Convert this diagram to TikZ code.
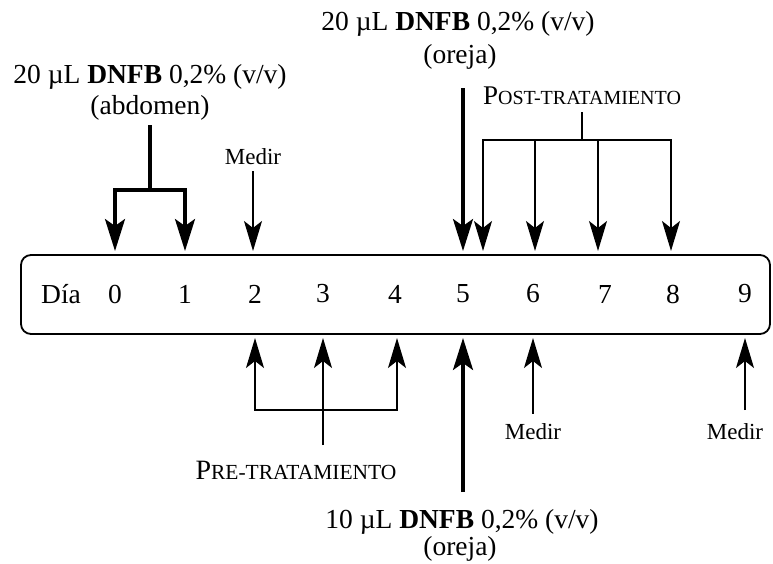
\documentclass[tikz,border=0pt]{standalone}
\usepackage{fontspec}
\setmainfont{Liberation Serif}
\usetikzlibrary{arrows.meta}
\begin{document}
\begin{tikzpicture}[x=1pt,y=-1pt,
  big/.style={font=\fontsize{27.5}{31}\selectfont, inner sep=0pt},
  med/.style={font=\fontsize{23}{26}\selectfont, inner sep=0pt},
  thinln/.style={line width=1.4pt},
  thickln/.style={line width=3.2pt},
  tipthin/.style={-{Stealth[length=30pt,width=18pt,inset=7pt]}},
  tipthick/.style={-{Stealth[length=32pt,width=20pt,inset=7pt]}},
  boxst/.style={draw, line width=1.8pt, rounded corners=10pt}
]
\useasboundingbox (0,0) rectangle (773,563);

% timeline box
\draw[boxst] (21,255) rectangle (770,334);
\node[big] (dia) at (61,294) {Día};
\foreach \d/\x in {0/115,1/185,2/255,3/323,4/395,5/463,6/533,7/605,8/673,9/745}
  \node[big] (d\d) at (\x,294) {\d};

% top texts
\node[big] (t1a) at (458,24) {20 µL \textbf{DNFB} 0,2\% (v/v)};
\node[big] (t1b) at (460,57) {(oreja)};
\node[big] (t2a) at (150,77) {20 µL \textbf{DNFB} 0,2\% (v/v)};
\node[big] (t2b) at (150,108) {(abdomen)};
\node[med] (m2) at (253,157) {Medir};
\node[inner sep=0pt] (post) at (582,96)
  {\fontsize{27}{30}\selectfont P\fontsize{20}{24}\selectfont OST-TRATAMIENTO};

% bottom texts
\node[inner sep=0pt] (pre) at (296,470)
  {\fontsize{28}{30}\selectfont P\fontsize{21.5}{24}\selectfont RE-TRATAMIENTO};
\node[med] (m6) at (533,432) {Medir};
\node[med] (m9) at (735,432) {Medir};
\node[big] (t3a) at (462,522) {10 µL \textbf{DNFB} 0,2\% (v/v)};
\node[big] (t3b) at (460,549) {(oreja)};

% top arrow coordinates
\coordinate (a0) at (115,251);
\coordinate (a1) at (185,251);
\coordinate (a2) at (253,251);
\coordinate (a5) at (463,251);
\coordinate (p5) at (483,251);
\coordinate (p6) at (535,251);
\coordinate (p7) at (598,251);
\coordinate (p8) at (671,251);
\coordinate (abS) at (150,125);
\coordinate (abJ) at (150,190);
\coordinate (s5) at (463,88);
\coordinate (pJ) at (582,140);

% abdomen bracket
\draw[thickln] (abS) -- (abJ);
\draw[thickln,tipthick] (abJ) -| (a0);
\draw[thickln,tipthick] (abJ) -| (a1);
% medir day 2
\draw[thinln,tipthin] ([yshift=-6pt]m2.south) -- (a2);
% thick arrow day 5 top
\draw[thickln,tipthick] (s5) -- (a5);
% post-tratamiento bracket
\draw[thinln] ([yshift=-7pt]post.south) -- (pJ);
\draw[thinln,tipthin] (pJ) -| (p5);
\draw[thinln,tipthin] (pJ) -| (p6);
\draw[thinln,tipthin] (pJ) -| (p7);
\draw[thinln,tipthin] (pJ) -| (p8);

% bottom arrow coordinates
\coordinate (b2) at (255,338);
\coordinate (b3) at (323,338);
\coordinate (b4) at (397,338);
\coordinate (b5) at (463,338);
\coordinate (b6) at (533,338);
\coordinate (b9) at (745,338);
\coordinate (preS) at (323,445);
\coordinate (preJ) at (323,410);
\coordinate (s5b) at (463,492);
\coordinate (m9s) at (745,410);

% pre-tratamiento bracket
\draw[thinln,tipthin] (preS) -- (b3);
\draw[thinln,tipthin] (preJ) -| (b2);
\draw[thinln,tipthin] (preJ) -| (b4);
% medir arrows bottom
\draw[thinln,tipthin] ([yshift=10pt]m6.north) -- (b6);
\draw[thinln,tipthin] (m9s) -- (b9);
% thick arrow day 5 bottom
\draw[thickln,tipthick] (s5b) -- (b5);
\end{tikzpicture}
\end{document}
